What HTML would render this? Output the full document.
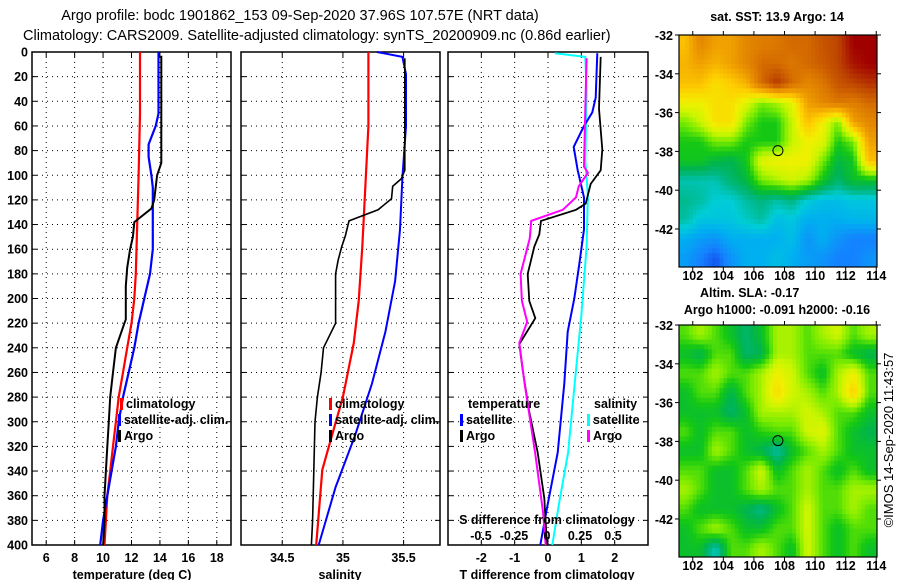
<!DOCTYPE html>
<html><head><meta charset="utf-8"><style>
body{margin:0;background:#fff;width:900px;height:580px;overflow:hidden}
svg{display:block;font-family:"Liberation Sans",sans-serif}
.b{font-weight:bold;font-size:12.5px}
</style></head><body>
<svg id="s" width="900" height="580">
<text x="300" y="20" text-anchor="middle" font-size="14.5">Argo profile: bodc 1901862_153 09-Sep-2020 37.96S 107.57E (NRT data)</text>
<text x="23" y="40" font-size="14.5">Climatology: CARS2009. Satellite-adjusted climatology: synTS_20200909.nc (0.86d earlier)</text>
</svg>
<script>
// ---- data ----
const depthTicks=[0,20,40,60,80,100,120,140,160,180,200,220,240,260,280,300,320,340,360,380,400];
const tTicks=[6,8,10,12,14,16,18];
const sTicks=[34.5,35,35.5];
const dTTicks=[-2,-1,0,1,2];
const dSTicks=[-0.5,-0.25,0,0.25,0.5];
const dSTickLabels=["-0.5","-0.25","0","0.25","0.5"];
// temperature
const tArgoD=[3,50,90,100,120,127,138,150,160,175,190,217,220,240,260,280,300,320,340,360,380,400];
const tArgoV=[14.1,14.1,14.1,13.8,13.6,13.4,12.2,12.1,11.9,11.7,11.6,11.6,11.5,10.9,10.7,10.5,10.4,10.3,10.2,10.1,10.1,10.0];
const tClimD=[0,50,100,140,180,200,220,240,260,280,300,320,340,360,380,400];
const tClimV=[12.6,12.6,12.5,12.4,12.3,12.2,12.0,11.7,11.4,11.1,10.9,10.7,10.5,10.3,10.2,10.1];
const tSatD=[0,50,60,75,85,100,110,140,160,180,200,220,240,260,280,300,320,340,360,380,400];
const tSatV=[13.9,13.9,13.7,13.2,13.2,13.4,13.5,13.5,13.5,13.3,12.9,12.5,12.2,11.8,11.4,11.1,10.9,10.6,10.3,10.0,9.8];
// salinity
const sArgoD=[5,96,103,109,119,128,137,149,158,169,180,220,240,260,280,300,340,380,400];
const sArgoV=[35.51,35.51,35.48,35.41,35.40,35.29,35.05,35.02,34.99,34.96,34.94,34.94,34.84,34.82,34.79,34.77,34.76,34.75,34.74];
const sClimD=[0,60,118,158,202,236,280,311,339,400];
const sClimV=[35.21,35.21,35.18,35.16,35.13,35.09,35.0,34.91,34.83,34.78];
const sSatD=[0,4,18,60,102,144,186,227,269,311,353,400];
const sSatV=[35.28,35.49,35.52,35.52,35.49,35.47,35.43,35.35,35.24,35.10,34.94,34.80];
// differences
const dTArgoD=[4,46,79,96,107,123,128,137,148,158,180,202,216,237,258,292,325,362,400];
const dTArgoV=[1.58,1.53,1.63,1.58,1.28,1.13,0.84,-0.21,-0.26,-0.41,-0.61,-0.56,-0.38,-0.86,-0.76,-0.56,-0.31,-0.11,-0.03];
const dTSatD=[1,37,49,60,77,96,118,144,172,200,227,269,325,367,400];
const dTSatV=[1.48,1.43,1.33,1.08,0.77,0.89,1.08,1.08,0.94,0.79,0.59,0.49,0.29,-0.01,-0.23];
const dSArgoD=[5,46,93,98,109,118,128,137,151,180,202,219,236,269,325,373,400];
const dSArgoV=[0.30,0.29,0.28,0.31,0.24,0.22,0.12,-0.12,-0.13,-0.20,-0.19,-0.15,-0.21,-0.17,-0.09,-0.03,-0.01];
const dSSatD=[1,4,32,88,116,158,214,269,325,367,400];
const dSSatV=[0.06,0.29,0.30,0.29,0.31,0.30,0.26,0.21,0.16,0.09,0.04];
// maps (rows lat -32..-44, cols lon 101..114), colour index 0..1
const sstGrid=[
[0.7,0.8,0.75,0.75,0.8,0.82,0.83,0.85,0.85,0.88,0.9,0.97,0.97],
[0.72,0.75,0.72,0.75,0.8,0.85,0.85,0.83,0.85,0.87,0.9,0.95,0.97],
[0.7,0.7,0.65,0.68,0.72,0.85,0.92,0.85,0.8,0.83,0.88,0.9,0.92],
[0.62,0.62,0.65,0.65,0.6,0.52,0.55,0.6,0.75,0.8,0.83,0.82,0.85],
[0.52,0.57,0.65,0.65,0.52,0.47,0.47,0.57,0.7,0.62,0.52,0.75,0.8],
[0.47,0.47,0.52,0.52,0.47,0.47,0.47,0.57,0.62,0.6,0.47,0.52,0.75],
[0.46,0.46,0.43,0.42,0.46,0.6,0.62,0.62,0.62,0.52,0.43,0.46,0.7],
[0.36,0.36,0.36,0.4,0.43,0.52,0.55,0.58,0.55,0.46,0.4,0.45,0.45],
[0.38,0.37,0.34,0.34,0.37,0.39,0.37,0.39,0.34,0.32,0.32,0.33,0.33],
[0.37,0.33,0.33,0.33,0.35,0.37,0.32,0.33,0.3,0.3,0.3,0.31,0.31],
[0.3,0.28,0.27,0.3,0.3,0.3,0.3,0.32,0.27,0.3,0.27,0.25,0.25],
[0.28,0.25,0.22,0.27,0.3,0.3,0.32,0.3,0.28,0.27,0.25,0.25,0.27]];
const slaGrid=[
[0.5,0.55,0.5,0.45,0.4,0.45,0.55,0.55,0.5,0.55,0.58,0.5,0.55],
[0.45,0.42,0.5,0.5,0.4,0.42,0.55,0.55,0.5,0.5,0.5,0.45,0.42],
[0.5,0.5,0.55,0.5,0.5,0.55,0.62,0.58,0.5,0.45,0.55,0.62,0.5],
[0.45,0.5,0.5,0.42,0.5,0.55,0.66,0.58,0.55,0.5,0.55,0.68,0.5],
[0.45,0.45,0.45,0.4,0.45,0.55,0.55,0.55,0.58,0.55,0.5,0.5,0.45],
[0.5,0.45,0.5,0.5,0.45,0.48,0.5,0.5,0.58,0.6,0.5,0.45,0.42],
[0.45,0.45,0.55,0.5,0.45,0.42,0.36,0.45,0.5,0.55,0.5,0.45,0.45],
[0.5,0.5,0.45,0.45,0.5,0.58,0.45,0.5,0.55,0.5,0.45,0.5,0.45],
[0.55,0.5,0.45,0.45,0.5,0.55,0.5,0.5,0.55,0.5,0.5,0.55,0.55],
[0.5,0.45,0.45,0.45,0.42,0.38,0.45,0.5,0.58,0.5,0.5,0.55,0.5],
[0.45,0.5,0.55,0.5,0.45,0.45,0.5,0.5,0.58,0.5,0.45,0.5,0.5],
[0.45,0.45,0.35,0.5,0.5,0.55,0.5,0.45,0.58,0.5,0.45,0.5,0.45]];
const lonTicks=[102,104,106,108,110,112,114];
const latTicks=[-32,-34,-36,-38,-40,-42];
const argoLon=107.57, argoLat=-37.96;

// ---- drawing ----
const NS="http://www.w3.org/2000/svg", svg=document.getElementById('s');
function mk(tag,at,parent){const e=document.createElementNS(NS,tag);for(const k in at)e.setAttribute(k,at[k]);(parent||svg).appendChild(e);return e;}
const Y0=52,Y1=545;
const yD=d=>Y0+(d/400)*(Y1-Y0);
const panels=[
 {x0:32,x1:231,lo:5,hi:19,name:'temperature-panel'},
 {x0:241,x1:440,lo:34.16,hi:35.8,name:'salinity-panel'},
 {x0:448,x1:648,lo:-3,hi:3,name:'difference-panel'}];
panels.forEach(p=>{p.f=v=>p.x0+(v-p.lo)/(p.hi-p.lo)*(p.x1-p.x0);});
const xS=v=>547+v*132;
function grid(p,ticks,labels){
 const g=mk('g',{});
 
 
 depthTicks.forEach(d=>{
  if(d>0&&d<400){const l=mk('line',{x1:p.x0,x2:p.x1,y1:yD(d),y2:yD(d),stroke:'#000','stroke-width':1,'stroke-dasharray':'1,4'},g);}
  mk('line',{x1:p.x0,x2:p.x0+5,y1:yD(d),y2:yD(d),stroke:'#000'},g);
  mk('line',{x1:p.x1-5,x2:p.x1,y1:yD(d),y2:yD(d),stroke:'#000'},g);
 });
 ticks.forEach((t,i)=>{
  const x=p.f(t);
  const l=mk('line',{x1:x,x2:x,y1:Y0,y2:Y1,stroke:'#000','stroke-dasharray':'1,4'},g);
  
  mk('line',{x1:x,x2:x,y1:Y0,y2:Y0+5,stroke:'#000'},g);
  mk('line',{x1:x,x2:x,y1:Y1-5,y2:Y1,stroke:'#000'},g);
  const tx=mk('text',{x:x,y:562,'text-anchor':'middle','class':'b'},g);
  tx.textContent=labels?labels[i]:String(t);
  
 });
 const r=mk('rect',{x:p.x0,y:Y0,width:p.x1-p.x0,height:Y1-Y0,fill:'none',stroke:'#000','stroke-width':1.5},g);
 
 return g;
}
grid(panels[0],tTicks);
grid(panels[1],sTicks);
grid(panels[2],dTTicks);
depthTicks.forEach(d=>{const t=mk('text',{x:28,y:yD(d)+4.5,'text-anchor':'end','class':'b'});t.textContent=d;
 });
function line(D,V,fx,col,w,name){
 const pts=D.map((d,i)=>fx(V[i]).toFixed(1)+','+yD(d).toFixed(1)).join(' ');
 const e=mk('polyline',{points:pts,fill:'none',stroke:col,'stroke-width':w});
 
}
line(tClimD,tClimV,panels[0].f,'#f00',2.2,'temperature-climatology-line');
line(tSatD,tSatV,panels[0].f,'#00f',2.2,'temperature-satellite-line');
line(tArgoD,tArgoV,panels[0].f,'#000',2,'temperature-argo-line');
line(sClimD,sClimV,panels[1].f,'#f00',2.2,'salinity-climatology-line');
line(sSatD,sSatV,panels[1].f,'#00f',2,'salinity-satellite-line');
line(sArgoD,sArgoV,panels[1].f,'#000',1.6,'salinity-argo-line');
line(dSSatD,dSSatV,xS,'#0ff',2,'salinity-diff-satellite-line');
line(dTSatD,dTSatV,panels[2].f,'#00f',2,'temperature-diff-satellite-line');
line(dTArgoD,dTArgoV,panels[2].f,'#000',1.8,'temperature-diff-argo-line');
line(dSArgoD,dSArgoV,xS,'#f0f',2,'salinity-diff-argo-line');
// axis titles
[[132,'temperature (deg C)'],[340,'salinity'],[547,'T difference from climatology']].forEach(a=>{
 const t=mk('text',{x:a[0],y:579,'text-anchor':'middle','class':'b'});t.textContent=a[1];
 });
// S difference axis
{const t=mk('text',{x:547,y:524,'text-anchor':'middle','class':'b'});t.textContent='S difference from climatology';
 }
dSTicks.forEach((v,i)=>{const t=mk('text',{x:xS(v),y:540,'text-anchor':'middle','class':'b'});t.textContent=dSTickLabels[i];
 });
// legends
function leg(x,y,col,label,name){
 mk('rect',{x:x,y:y-10,width:3,height:12,fill:col});
 const t=mk('text',{x:x+6,y:y,'class':'b'});t.textContent=label;
 }
leg(120,408,'#f00','climatology','legend-climatology');
leg(118,424,'#00f','satellite-adj. clim.','legend-satellite-adj');
leg(118,440,'#000','Argo','legend-argo');
leg(329,408,'#f00','climatology','legend-climatology-sal');
leg(329,424,'#00f','satellite-adj. clim.','legend-satellite-adj-sal');
leg(329,440,'#000','Argo','legend-argo-sal');
{const t=mk('text',{x:468,y:408,'class':'b'});t.textContent='temperature';}
{const t=mk('text',{x:594,y:408,'class':'b'});t.textContent='salinity';}
leg(460,424,'#00f','satellite','legend-t-satellite');
leg(460,440,'#000','Argo','legend-t-argo');
leg(587,424,'#0ff','satellite','legend-s-satellite');
leg(587,440,'#f0f','Argo','legend-s-argo');
// colormap
const cmap=[[0.2,[20,60,230]],[0.25,[20,130,255]],[0.3,[0,175,240]],[0.34,[0,205,215]],[0.38,[0,185,140]],[0.42,[0,180,80]],[0.47,[20,200,20]],[0.52,[120,235,0]],[0.57,[200,245,0]],[0.62,[240,240,0]],[0.68,[255,205,0]],[0.75,[240,160,0]],[0.83,[220,120,0]],[0.9,[190,70,0]],[0.97,[160,0,0]]];
function col(v){if(v<=cmap[0][0])return 'rgb('+cmap[0][1]+')';
 for(let i=1;i<cmap.length;i++){if(v<=cmap[i][0]){const a=cmap[i-1],b=cmap[i],t=(v-a[0])/(b[0]-a[0]);
  return 'rgb('+a[1].map((c,k)=>Math.round(c+(b[1][k]-c)*t)).join(',')+')';}}
 return 'rgb('+cmap[cmap.length-1][1]+')';}
function map(y0,gridData,name){
 const x0=679,x1=877,y1=y0+232,lon0=101.1,lon1=114.05,lat0=-32,lat1=-43.96;
 const fx=l=>x0+(l-lon0)/(lon1-lon0)*(x1-x0), fy=l=>y0+(l-lat0)/(lat1-lat0)*(y1-y0);
 const g=mk('g',{});
 const R=gridData.length,C=gridData[0].length,st=4;
 for(let i=0;i<R*st;i++)for(let j=0;j<C*st;j++){
  const fr=Math.min(Math.max((i+0.5)/st-0.5,0),R-1), fc=Math.min(Math.max((j+0.5)/st-0.5,0),C-1);
  const r0=Math.floor(fr),c0=Math.floor(fc),r1=Math.min(r0+1,R-1),c1=Math.min(c0+1,C-1),tr=fr-r0,tc=fc-c0;
  const v=gridData[r0][c0]*(1-tr)*(1-tc)+gridData[r0][c1]*(1-tr)*tc+gridData[r1][c0]*tr*(1-tc)+gridData[r1][c1]*tr*tc;
  const la=-32-i/st, lo=101+j/st;
  const xa=Math.max(fx(lo),x0), xb=Math.min(fx(lo+1/st),x1), ya=fy(la), yb=Math.min(fy(la-1/st),y1);
  if(xb>xa&&yb>ya)mk('rect',{x:xa,y:ya,width:xb-xa+0.4,height:yb-ya+0.4,fill:col(v)},g);
 }
 mk('rect',{x:x0,y:y0,width:x1-x0,height:y1-y0,fill:'none',stroke:'#000','stroke-width':1.2},g);
 lonTicks.forEach(l=>{const x=fx(l);mk('line',{x1:x,x2:x,y1:y1,y2:y1+4,stroke:'#000'},g);mk('line',{x1:x,x2:x,y1:y0-4,y2:y0,stroke:'#000'},g);
  const t=mk('text',{x:x,y:y1+13,'text-anchor':'middle','class':'b'},g);t.textContent=l;});
 latTicks.forEach(l=>{const y=fy(l);mk('line',{x1:x0-4,x2:x0,y1:y,y2:y,stroke:'#000'},g);mk('line',{x1:x1,x2:x1+4,y1:y,y2:y,stroke:'#000'},g);
  const t=mk('text',{x:673,y:y+5,'text-anchor':'end','class':'b'},g);t.textContent=l;});
 const c=mk('circle',{cx:fx(argoLon),cy:fy(argoLat),r:5,fill:'none',stroke:'#000','stroke-width':1},g);
 
}
map(35,sstGrid,'sst-map');
map(325,slaGrid,'sla-map');
[[777,21,'middle','sat. SST: 13.9 Argo: 14','sst-map-title'],[700,297,'start','Altim. SLA: -0.17','sla-title'],[777,314,'middle','Argo h1000: -0.091 h2000: -0.16','steric-height-title']].forEach(a=>{
 const t=mk('text',{x:a[0],y:a[1],'text-anchor':a[2],'class':'b'});t.textContent=a[3];});
{const t=mk('text',{x:0,y:0,'text-anchor':'middle','font-size':13,transform:'translate(893,440) rotate(-90)'});t.textContent='©IMOS 14-Sep-2020 11:43:57';
 }
</script>
</body></html>
